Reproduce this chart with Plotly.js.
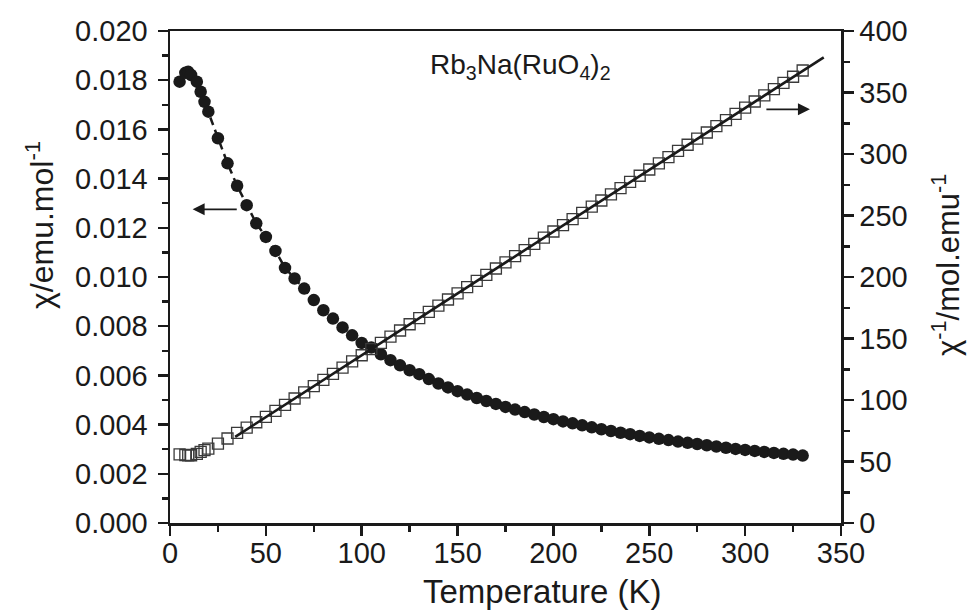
<!DOCTYPE html>
<html>
<head>
<meta charset="utf-8">
<script src="https://cdn.plot.ly/plotly-3.0.1.min.js"></script>
<style>html,body{margin:0;padding:0;background:#fff;}#chart{width:969px;height:611px;}</style>
</head>
<body>
<div id="chart"></div>
<script>
// Temperature (K)
const temperature = [5, 8, 9.5, 11, 14, 16, 18, 20,
  25, 30, 35, 40, 45, 50, 55, 60, 65, 70, 75, 80, 85, 90, 95, 100,
  105, 110, 115, 120, 125, 130, 135, 140, 145, 150, 155, 160, 165, 170, 175, 180,
  185, 190, 195, 200, 205, 210, 215, 220, 225, 230, 235, 240, 245, 250, 255, 260,
  265, 270, 275, 280, 285, 290, 295, 300, 305, 310, 315, 320, 325, 330];

// chi (emu/mol)
const chi = [0.01794, 0.01830, 0.01834, 0.01821, 0.01794, 0.01753, 0.01712, 0.01672,
  0.01564, 0.01462, 0.01371, 0.01292, 0.01218, 0.01163, 0.01106, 0.01037, 0.00994, 0.00953, 0.00906, 0.00865, 0.00831, 0.00795, 0.00763, 0.00732,
  0.00713, 0.00686, 0.00662, 0.00641, 0.00621, 0.00605, 0.00585, 0.00567, 0.00551, 0.00536, 0.00522, 0.00508, 0.00496, 0.00484, 0.00472, 0.00461,
  0.00451, 0.00441, 0.00431, 0.00422, 0.00413, 0.00405, 0.00397, 0.00389, 0.00381, 0.00374, 0.00367, 0.00361, 0.00354, 0.00348, 0.00342, 0.00337,
  0.00331, 0.00326, 0.00321, 0.00316, 0.00311, 0.00306, 0.00301, 0.00297, 0.00293, 0.00289, 0.00285, 0.00281, 0.00278, 0.00274];

// inverse chi (mol/emu)
const invChi = [55.8, 55.3, 55.1, 55.1, 56.2, 57.9, 59.2, 60.5,
  64.6, 68.7, 73.2, 77.6, 81.9, 86.2, 91.1, 96.1, 101.2, 106.2, 111.2, 116.3, 121.3, 126.4, 131.4, 136.4,
  141.4, 146.5, 151.5, 156.5, 161.6, 166.6, 171.6, 176.7, 181.7, 186.7, 191.8, 196.8, 201.8, 206.9, 211.9, 216.9,
  221.9, 227.0, 232.0, 237.0, 242.1, 247.1, 252.1, 257.2, 262.2, 267.2, 272.3, 277.3, 282.3, 287.4, 292.4, 297.4,
  302.5, 307.5, 312.5, 317.5, 322.6, 327.6, 332.6, 337.7, 342.7, 347.7, 352.8, 357.8, 362.8, 367.9];

// Curie-Weiss fit line (endpoints)
const fitT = [34, 341];
const fitInvChi = [70.0, 378.6];

// arrows: [tail T, head T, value]
const leftArrow = [35.6, 11.8, 0.01275];
const rightArrow = [310.3, 333.8, 336.3];

const FONT = 'Liberation Sans, Arial, sans-serif';
const INK = '#1a1a1a';

const traces = [
  {
    x: temperature, y: invChi, yaxis: 'y2', type: 'scatter', mode: 'markers',
    marker: {symbol: 'square-open', size: 11, color: '#3a3a3a', line: {width: 1.3, color: '#3a3a3a'}},
    hoverinfo: 'skip'
  },
  {
    x: fitT, y: fitInvChi, yaxis: 'y2', type: 'scatter', mode: 'lines',
    line: {color: INK, width: 2.6}, hoverinfo: 'skip'
  },
  {
    x: temperature, y: chi, type: 'scatter', mode: 'lines+markers',
    line: {color: INK, width: 2.5, dash: '8px,5px'},
    marker: {symbol: 'circle', size: 12.5, color: INK},
    hoverinfo: 'skip'
  }
];

const axisCommon = {
  showgrid: false, zeroline: false, showline: true, linecolor: INK, linewidth: 2.5,
  ticks: 'outside', ticklen: 10, tickwidth: 2.5, tickcolor: INK,
  tickfont: {family: FONT, size: 29, color: INK}
};

const layout = {
  width: 969, height: 611,
  margin: {l: 170, r: 128, t: 31, b: 88},
  paper_bgcolor: '#fff', plot_bgcolor: '#fff',
  showlegend: false,
  font: {family: FONT, color: INK},
  xaxis: Object.assign({}, axisCommon, {
    range: [0, 350], dtick: 50, tick0: 0, mirror: true,
    minor: {dtick: 25, ticks: 'outside', ticklen: 6, tickwidth: 2.5, tickcolor: INK},
    ticklabelstandoff: -7
  }),
  yaxis: Object.assign({}, axisCommon, {
    range: [0, 0.020], dtick: 0.002, tick0: 0, tickformat: '.3f',
    minor: {dtick: 0.001, ticks: 'outside', ticklen: 6, tickwidth: 2.5, tickcolor: INK},
    ticklabelstandoff: 4
  }),
  yaxis2: Object.assign({}, axisCommon, {
    range: [0, 400], dtick: 50, tick0: 0, overlaying: 'y', side: 'right',
    minor: {dtick: 25, ticks: 'outside', ticklen: 6, tickwidth: 2.5, tickcolor: INK},
    ticklabelstandoff: 0
  }),
  annotations: [
    {xref: 'paper', yref: 'paper', x: (542 - 170) / 671, y: (523 - 591) / 492,
     text: 'Temperature (K)', showarrow: false, xanchor: 'center', yanchor: 'middle',
     font: {family: FONT, size: 33, color: INK}},
    {xref: 'paper', yref: 'paper', x: (40 - 170) / 671, y: (523 - 225) / 492,
     text: 'χ/emu.mol<sup>-1</sup>', textangle: -90, showarrow: false, xanchor: 'center', yanchor: 'middle',
     font: {family: FONT, size: 32, color: INK}},
    {xref: 'paper', yref: 'paper', x: (946 - 170) / 671, y: (523 - 265) / 492,
     text: 'χ<sup>-1</sup>/mol.emu<sup>-1</sup>', textangle: -90, showarrow: false, xanchor: 'center', yanchor: 'middle',
     font: {family: FONT, size: 31, color: INK}},
    {xref: 'paper', yref: 'paper', x: (520 - 170) / 671, y: (523 - 66) / 492,
     text: 'Rb<sub>3</sub>Na(RuO<sub>4</sub>)<sub>2</sub>', showarrow: false, xanchor: 'center', yanchor: 'middle',
     font: {family: FONT, size: 28, color: INK}},
    {xref: 'x', yref: 'y', axref: 'x', ayref: 'y',
     x: leftArrow[1], y: leftArrow[2], ax: leftArrow[0], ay: leftArrow[2],
     text: '', showarrow: true, arrowhead: 2, arrowsize: 1.5, arrowwidth: 1.6, arrowcolor: INK},
    {xref: 'x', yref: 'y2', axref: 'x', ayref: 'y2',
     x: rightArrow[1], y: rightArrow[2], ax: rightArrow[0], ay: rightArrow[2],
     text: '', showarrow: true, arrowhead: 2, arrowsize: 1.5, arrowwidth: 1.6, arrowcolor: INK}
  ]
};

Plotly.newPlot('chart', traces, layout, {staticPlot: true, displayModeBar: false});
</script>
</body>
</html>
